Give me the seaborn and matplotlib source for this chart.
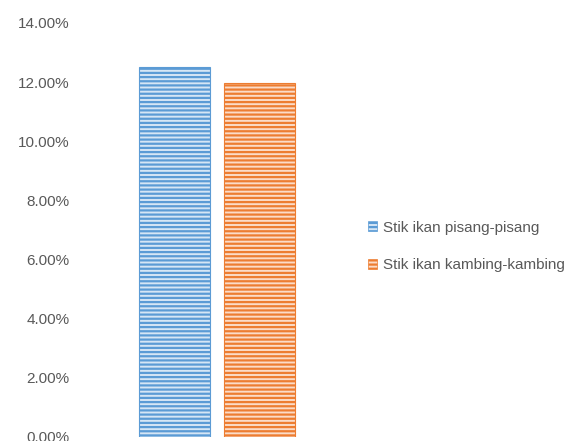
import matplotlib
matplotlib.use("Agg")
import matplotlib.pyplot as plt
import seaborn as sns
import pandas as pd
from matplotlib.ticker import FuncFormatter
from matplotlib.patches import Patch

categories = ["1"]
series = ["Stik ikan pisang-pisang", "Stik ikan kambing-kambing"]
values = [0.1252, 0.1197]
yticks = [0.0, 0.02, 0.04, 0.06, 0.08, 0.10, 0.12, 0.14]

main_colors = ["#5b9bd5", "#ed7d31"]
light_colors = ["#d6e6f5", "#fbdcc8"]

sns.set_theme(style="white")
plt.rcParams["font.family"] = ["Liberation Sans", "DejaVu Sans"]
plt.rcParams["hatch.linewidth"] = 1.6

df = pd.DataFrame({"cat": categories * len(series), "series": series, "value": values})

fig = plt.figure(figsize=(5.87, 4.41), dpi=100)
ax = fig.add_axes([75 / 587, 4 / 441, 284 / 587, (437 - 23) / 441])

sns.barplot(data=df, x="cat", y="value", hue="series", hue_order=series,
            palette=light_colors, gap=0.167, width=0.884, ax=ax, legend=True)

for patch, mc, lc in zip(ax.patches, main_colors, light_colors):
    patch.set_facecolor(lc)
    patch.set_edgecolor(mc)
    patch.set_linewidth(0.8)
    patch.set_hatch("----")

ax.set_xlim(-0.738, 0.738)
ax.set_ylim(0, 0.14)
ax.set_yticks(yticks)
ax.yaxis.set_major_formatter(FuncFormatter(lambda v, p: f"{v*100:.2f}%"))
ax.tick_params(axis="y", labelsize=11, labelcolor="#595959", length=0, pad=4)
ax.set_xticks([])
ax.set_xlabel("")
ax.set_ylabel("")
for s in ax.spines.values():
    s.set_visible(False)

ax.get_legend().remove()
handles = [Patch(facecolor=lc, edgecolor=mc, hatch="----", linewidth=0.5)
           for mc, lc in zip(main_colors, light_colors)]
fig.legend(handles, series, loc="center left", bbox_to_anchor=(362 / 587, 1 - 246.5 / 441),
           frameon=False, fontsize=11, labelcolor="#595959", handlelength=0.6,
           handleheight=0.6, handletextpad=0.35, labelspacing=1.55, borderaxespad=0)

fig.savefig("out.png", dpi=100)
